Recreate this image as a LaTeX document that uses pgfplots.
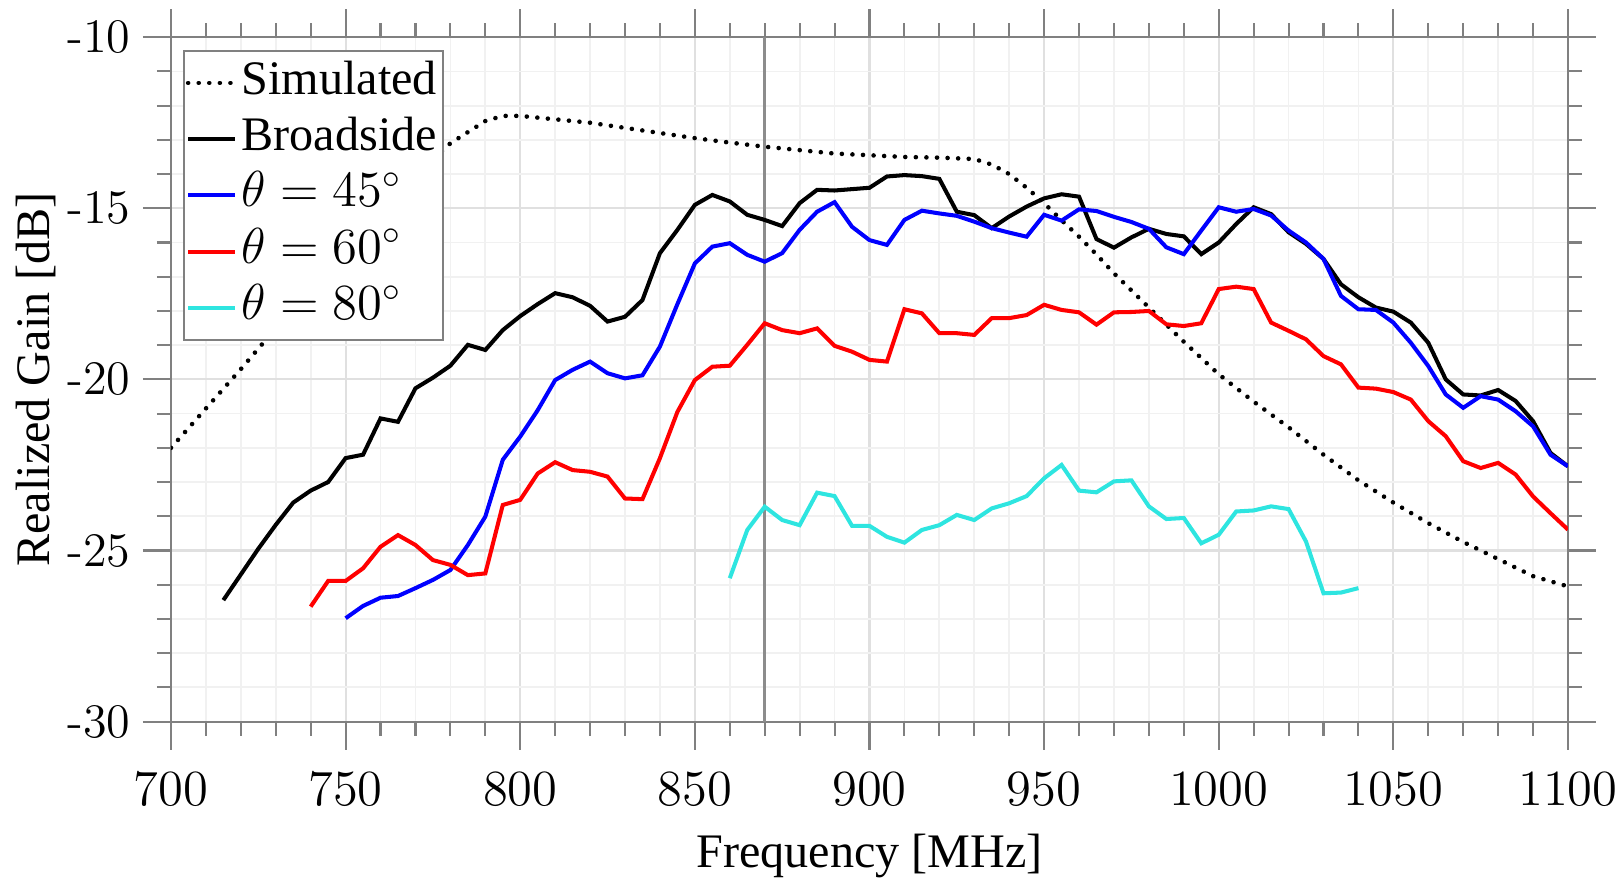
\documentclass[border=0pt]{standalone}
\usepackage{fontspec}
\newfontfamily\timesfont{Liberation Serif}
\usepackage{pgfplots}
\pgfplotsset{compat=1.18}
\definecolor{cyanline}{rgb}{0.18,0.9,0.88}
\definecolor{gridmajor}{gray}{0.88}
\definecolor{gridminor}{gray}{0.945}

\pgfplotstableread{
f v
700 -22.0
710 -20.85
720 -19.7
730 -18.5
740 -17.3
750 -16.2
760 -15.1
770 -14.05
780 -13.1
790 -12.45
795 -12.3
800 -12.3
810 -12.4
820 -12.5
830 -12.65
840 -12.8
850 -12.95
860 -13.08
870 -13.2
880 -13.3
890 -13.4
900 -13.45
910 -13.5
920 -13.52
930 -13.56
935 -13.72
940 -14.0
945 -14.4
950 -14.85
955 -15.35
960 -15.83
965 -16.35
970 -16.9
980 -17.9
990 -18.9
1000 -19.85
1010 -20.65
1020 -21.4
1030 -22.2
1040 -22.95
1050 -23.6
1060 -24.2
1070 -24.75
1080 -25.25
1090 -25.75
1100 -26.05
}\simulated

\pgfplotstableread{
f v
715 -26.45
720 -25.7
725 -24.95
730 -24.25
735 -23.6
740 -23.25
745 -23.0
750 -22.3
755 -22.2
760 -21.14
765 -21.24
770 -20.26
775 -19.95
780 -19.6
785 -18.99
790 -19.14
795 -18.56
800 -18.15
805 -17.8
810 -17.48
815 -17.6
820 -17.85
825 -18.31
830 -18.17
835 -17.68
840 -16.31
845 -15.63
850 -14.9
855 -14.61
860 -14.8
865 -15.19
870 -15.34
875 -15.52
880 -14.85
885 -14.46
890 -14.48
895 -14.44
900 -14.4
905 -14.07
910 -14.03
915 -14.06
920 -14.14
925 -15.1
930 -15.2
935 -15.58
940 -15.24
945 -14.95
950 -14.71
955 -14.59
960 -14.66
965 -15.9
970 -16.15
975 -15.85
980 -15.6
985 -15.75
990 -15.82
995 -16.34
1000 -16.0
1005 -15.46
1010 -14.97
1015 -15.17
1020 -15.7
1025 -16.04
1030 -16.48
1035 -17.22
1040 -17.6
1045 -17.9
1050 -18.02
1055 -18.34
1060 -18.93
1065 -20.0
1070 -20.44
1075 -20.47
1080 -20.31
1085 -20.63
1090 -21.22
1095 -22.15
1100 -22.54
}\broadside

\pgfplotstableread{
f v
750 -26.98
755 -26.62
760 -26.38
765 -26.33
770 -26.1
775 -25.86
780 -25.57
785 -24.84
790 -24.01
795 -22.35
800 -21.67
805 -20.9
810 -20.02
815 -19.72
820 -19.48
825 -19.82
830 -19.97
835 -19.88
840 -19.04
845 -17.8
850 -16.61
855 -16.12
860 -16.02
865 -16.36
870 -16.56
875 -16.31
880 -15.63
885 -15.1
890 -14.82
895 -15.54
900 -15.93
905 -16.07
910 -15.34
915 -15.07
920 -15.15
925 -15.22
930 -15.39
935 -15.58
940 -15.71
945 -15.83
950 -15.19
955 -15.36
960 -15.03
965 -15.08
970 -15.25
975 -15.4
980 -15.6
985 -16.14
990 -16.34
995 -15.65
1000 -14.97
1005 -15.1
1010 -15.02
1015 -15.21
1020 -15.65
1025 -16.0
1030 -16.48
1035 -17.56
1040 -17.95
1045 -17.97
1050 -18.34
1055 -18.93
1060 -19.61
1065 -20.44
1070 -20.83
1075 -20.49
1080 -20.59
1085 -20.93
1090 -21.37
1095 -22.2
1100 -22.54
}\thetafortyfive

\pgfplotstableread{
f v
740 -26.64
745 -25.89
750 -25.89
755 -25.52
760 -24.89
765 -24.55
770 -24.84
775 -25.28
780 -25.42
785 -25.72
790 -25.67
795 -23.67
800 -23.52
805 -22.75
810 -22.42
815 -22.65
820 -22.7
825 -22.84
830 -23.48
835 -23.5
840 -22.3
845 -20.95
850 -20.02
855 -19.63
860 -19.6
865 -18.99
870 -18.36
875 -18.56
880 -18.65
885 -18.51
890 -19.02
895 -19.19
900 -19.43
905 -19.48
910 -17.95
915 -18.07
920 -18.65
925 -18.65
930 -18.7
935 -18.21
940 -18.21
945 -18.12
950 -17.82
955 -17.97
960 -18.04
965 -18.4
970 -18.04
975 -18.03
980 -18.0
985 -18.39
990 -18.44
995 -18.36
1000 -17.36
1005 -17.29
1010 -17.36
1015 -18.34
1020 -18.58
1025 -18.83
1030 -19.32
1035 -19.56
1040 -20.24
1045 -20.27
1050 -20.37
1055 -20.59
1060 -21.22
1065 -21.66
1070 -22.39
1075 -22.59
1080 -22.44
1085 -22.78
1090 -23.42
1095 -23.91
1100 -24.39
}\thetasixty

\pgfplotstableread{
f v
860 -25.81
865 -24.4
870 -23.72
875 -24.11
880 -24.26
885 -23.31
890 -23.41
895 -24.28
900 -24.28
905 -24.6
910 -24.77
915 -24.4
920 -24.26
925 -23.96
930 -24.11
935 -23.77
940 -23.62
945 -23.41
950 -22.89
955 -22.5
960 -23.25
965 -23.3
970 -22.98
975 -22.95
980 -23.71
985 -24.08
990 -24.05
995 -24.79
1000 -24.54
1005 -23.86
1010 -23.83
1015 -23.71
1020 -23.79
1025 -24.74
1030 -26.25
1035 -26.23
1040 -26.1
}\thetaeighty

\begin{document}
\begin{tikzpicture}
\path[use as bounding box] (-1.71cm,-1.584cm) rectangle (14.50cm,7.216cm);
\begin{axis}[
  scale only axis,
  width=13.97cm, height=6.844cm,
  xmin=700, xmax=1100, ymin=-30, ymax=-10,
  xtick={700,750,...,1100},
  ytick={-30,-25,-20,-15,-10},
  yticklabels={-30,-25,-20,-15,-10},
  /pgf/number format/1000 sep={},
  minor x tick num=4, minor y tick num=4,
  grid=both,
  major grid style={gridmajor, line width=0.6pt},
  minor grid style={gridminor, line width=0.5pt},
  axis line style={black!50, line width=0.6pt},
  tick align=outside,
  major tick length=0.28cm, minor tick length=0.14cm,
  every tick/.style={black!50, line width=0.6pt},
  tick label style={font=\fontsize{13.7}{16}\selectfont},
  xticklabel style={yshift=-0.11cm},
  label style={font=\timesfont\fontsize{13.7}{16}\selectfont},
  xlabel={Frequency [MHz]},
  ylabel={Realized Gain [dB]},
  xlabel style={at={(axis description cs:0.5,-0.1964)}, anchor=center},
  ylabel style={at={(axis description cs:-0.0966,0.5)}, anchor=center},
  legend style={at={(axis description cs:0.0086,0.982)}, anchor=north west,
    draw=black!50, fill=white, line width=0.6pt,
    font=\timesfont\fontsize{13.7}{16}\selectfont,
    inner xsep=0.5pt, inner ysep=1.5pt, row sep=0.6pt,
    nodes={inner sep=1.2pt, text height=9.8pt, text depth=3.2pt}},
  legend cell align=left,
  legend image code/.code={\draw[#1] (0cm,0cm) -- (0.47cm,0cm);},
]
\addplot[black!45, line width=0.8pt, forget plot] coordinates {(870,-30) (870,-10)};
\addplot[black, line width=1.3pt, line cap=round, dash pattern=on 0.01pt off 3pt] table[x=f,y=v] {\simulated};
\addlegendentry{Simulated}
\addplot[black, line width=1.15pt] table[x=f,y=v] {\broadside};
\addlegendentry{Broadside}
\addplot[blue, line width=1.15pt] table[x=f,y=v] {\thetafortyfive};
\addlegendentry{$\theta = 45^\circ$}
\addplot[red, line width=1.15pt] table[x=f,y=v] {\thetasixty};
\addlegendentry{$\theta = 60^\circ$}
\addplot[cyanline, line width=1.15pt] table[x=f,y=v] {\thetaeighty};
\addlegendentry{$\theta = 80^\circ$}
\end{axis}
\end{tikzpicture}
\end{document}
